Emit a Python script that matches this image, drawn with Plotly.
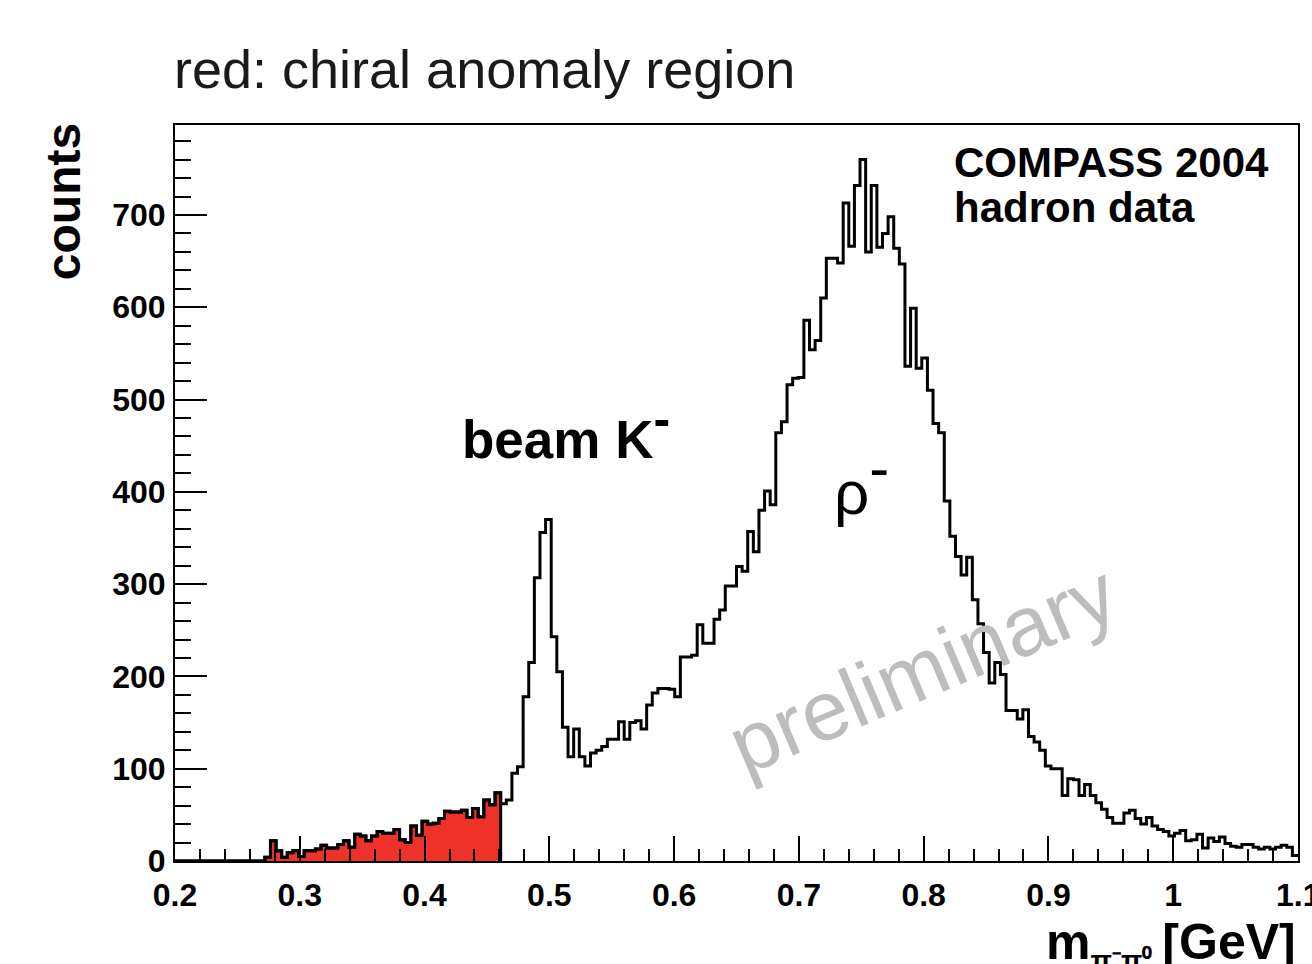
import plotly.graph_objects as go

# ---- data ----
x_min = 0.2
x_max = 1.1
n_bins = 200
counts = [
    0, 0, 0, 0, 0, 0, 0, 0, 0, 0, 0, 0, 0, 0, 0, 0,          # 0-15
    4, 22, 11, 4, 9, 11, 5, 11, 11, 13,                        # 16-25
    17, 14, 14, 18, 22, 15, 29, 27, 22, 27,                    # 26-35
    32, 30, 30, 34, 23, 20, 38, 28, 43, 40,                    # 36-45
    41, 46, 54, 53, 53, 55, 47, 57, 48, 66,                    # 46-55
    61, 74, 62, 66, 95, 102, 178, 215, 307, 356,               # 56-65
    370, 243, 205, 145, 113, 143, 113, 103, 117, 120,          # 66-75
    124, 132, 132, 151, 132, 150, 152, 143, 169, 182,          # 76-85
    187, 187, 186, 178, 221, 221, 223, 256, 236, 236,          # 86-95
    262, 272, 298, 298, 319, 314, 357, 335, 380, 401,          # 96-105
    386, 464, 476, 516, 523, 524, 586, 554, 564, 610,          # 106-115
    653, 653, 648, 713, 666, 732, 760, 660, 732, 665,          # 116-125
    680, 698, 664, 647, 536, 599, 534, 545, 510, 474,          # 126-135
    464, 390, 352, 330, 310, 329, 283, 257, 226, 193,          # 136-145
    215, 202, 163, 163, 154, 164, 135, 129, 120, 103,          # 146-155
    100, 100, 71, 89, 88, 71, 83, 71, 63, 56,                  # 156-165
    47, 41, 41, 52, 55, 46, 40, 47, 38, 34,                    # 166-175
    32, 27, 30, 33, 22, 23, 29, 14, 25, 21,                    # 176-185
    26, 19, 16, 15, 18, 18, 15, 13, 15, 13,                    # 186-195
    15, 17, 15, 6,                                             # 196-199
]
red_upper = 0.461          # chiral anomaly region upper edge
x_tick_vals = [0.2, 0.3, 0.4, 0.5, 0.6, 0.7, 0.8, 0.9, 1.0]
x_tick_text = ["0.2", "0.3", "0.4", "0.5", "0.6", "0.7", "0.8", "0.9", "1"]
x_last_tick = 1.1
x_last_text = "1.1"
y_tick_vals = [0, 100, 200, 300, 400, 500, 600, 700]

# ---- build step histogram ----
width = (x_max - x_min) / n_bins
edges = [x_min + i * width for i in range(n_bins + 1)]
step_x = edges[:-1] + [edges[-1]]
step_y = counts + [counts[-1]]

n_red = sum(1 for e in edges[1:] if e <= red_upper + 1e-9)
red_x = edges[:n_red] + [edges[n_red], edges[n_red]]
red_y = counts[:n_red] + [counts[n_red - 1], 0]

fig = go.Figure()
fig.add_trace(go.Scatter(
    x=red_x, y=red_y, mode="lines", line=dict(shape="hv", color="black", width=3),
    fill="tozeroy", fillcolor="#EE3129", hoverinfo="skip", showlegend=False))
fig.add_trace(go.Scatter(
    x=step_x, y=step_y, mode="lines", line=dict(shape="hv", color="black", width=3),
    showlegend=False))

tick_font = dict(family="Liberation Sans", size=32, color="black", weight="bold")

fig.update_layout(
    width=1312, height=964,
    margin=dict(l=175, r=12, t=125, b=103),
    paper_bgcolor="white", plot_bgcolor="white",
    showlegend=False,
    xaxis=dict(
        range=[x_min, x_max], showgrid=False, zeroline=False,
        showline=True, linecolor="black", linewidth=2, mirror=True,
        ticks="inside", ticklen=25, tickwidth=2, tickcolor="black",
        tickvals=x_tick_vals, ticktext=x_tick_text, tickfont=tick_font,
        ticklabelstandoff=5,
        minor=dict(dtick=0.02, ticks="inside", ticklen=12, tickwidth=2, tickcolor="black", showgrid=False),
    ),
    yaxis=dict(
        range=[0, 797.5], showgrid=False, zeroline=False,
        showline=True, linecolor="black", linewidth=2, mirror=True,
        ticks="inside", ticklen=32, tickwidth=2, tickcolor="black",
        tickvals=y_tick_vals, tickfont=tick_font, ticklabelstandoff=1,
        minor=dict(dtick=20, ticks="inside", ticklen=16, tickwidth=2, tickcolor="black", showgrid=False),
    ),
)

ann = []
# last x tick label (at the very edge of the frame)
ann.append(dict(text=x_last_text, xref="x", yref="paper", x=x_last_tick, y=-0.0465,
                xanchor="center", yanchor="middle", showarrow=False, font=tick_font))
ann.append(dict(text="red: chiral anomaly region", xref="paper", yref="paper",
                x=-0.0027, y=1.0761, xanchor="left", yanchor="middle", showarrow=False,
                font=dict(family="Liberation Sans", size=54, color="#1a1a1a")))
ann.append(dict(text="counts", xref="paper", yref="paper", x=-0.0987, y=0.8954,
                xanchor="center", yanchor="middle", textangle=-90, showarrow=False,
                font=dict(family="Liberation Sans", size=48, color="black", weight="bold")))
ann.append(dict(text="COMPASS 2004", xref="paper", yref="paper", x=0.6916, y=0.949,
                xanchor="left", yanchor="middle", showarrow=False,
                font=dict(family="Liberation Sans", size=42, color="black", weight="bold")))
ann.append(dict(text="hadron data", xref="paper", yref="paper", x=0.6916, y=0.888,
                xanchor="left", yanchor="middle", showarrow=False,
                font=dict(family="Liberation Sans", size=42, color="black", weight="bold")))
ann.append(dict(text="beam K<sup><span style='font-size:50px'>-</span></sup>", xref="x", yref="y",
                x=0.4288, y=467, xanchor="left", yanchor="middle", showarrow=False,
                font=dict(family="Liberation Sans", size=53, color="black", weight="bold")))
ann.append(dict(text="ρ<sup><span style='font-size:60px'>-</span></sup>", xref="x", yref="y",
                x=0.7264, y=412, xanchor="left", yanchor="middle", showarrow=False,
                font=dict(family="Liberation Sans", size=62, color="black")))
ann.append(dict(text="preliminary", xref="x", yref="y", x=0.7990, y=208,
                xanchor="center", yanchor="middle", textangle=-23, showarrow=False,
                font=dict(family="Liberation Sans", size=84, color="#bdbdbd")))
ann.append(dict(text="m<sub><span style='font-size:28px'>π⁻π⁰</span></sub>\u2009[GeV]",
                xref="paper", yref="paper", x=1.0, y=-0.114,
                xanchor="right", yanchor="middle", showarrow=False,
                font=dict(family="Liberation Sans", size=50, color="black", weight="bold")))
fig.update_layout(annotations=ann)

fig.write_html("out.html")
